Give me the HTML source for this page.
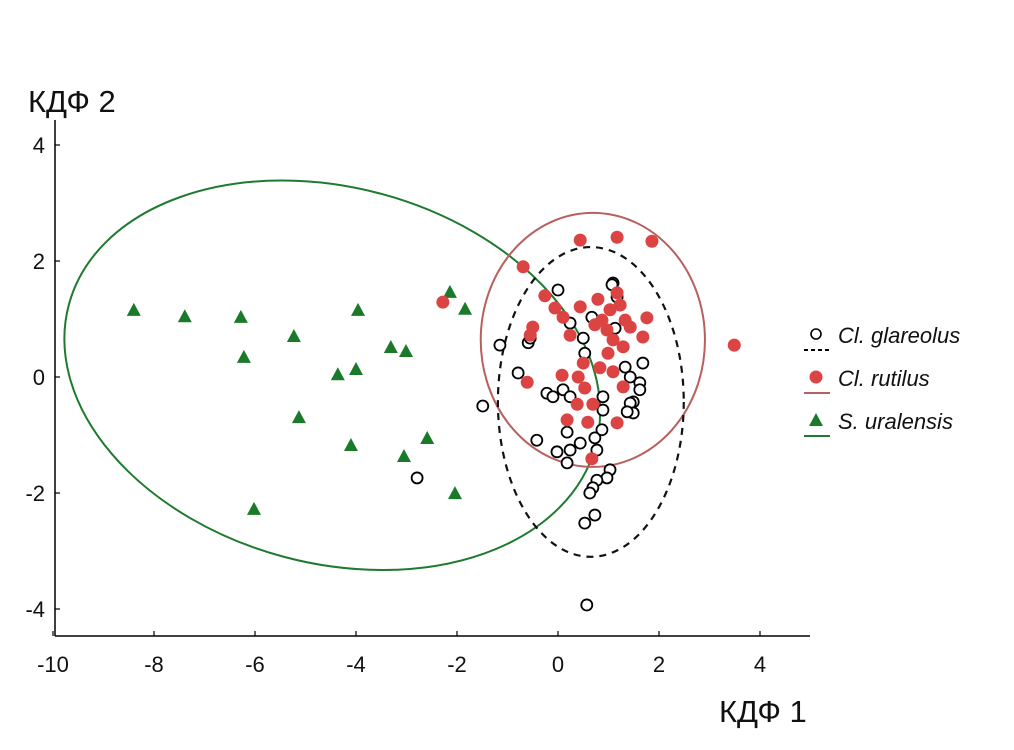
<!DOCTYPE html>
<html><head><meta charset="utf-8"><style>
html,body{margin:0;padding:0;background:#fff;}
svg{display:block;font-family:"Liberation Sans",sans-serif;}
</style></head><body>
<svg id="chart" width="1014" height="750" viewBox="0 0 1014 750"></svg>
<script>
const xTicks=[-10,-8,-6,-4,-2,0,2,4];
const yTicks=[-4,-2,0,2,4];
const glareolusX=[1.09,0,1.17,0.67,0.24,1.13,-0.59,-0.55,0.5,0.53,1.68,-0.79,1.33,1.43,1.62,-0.22,-0.1,0.1,0.24,0.89,-1.49,1.49,1.62,1.43,1.49,1.37,0.89,-0.42,0.18,-0.02,0.24,0.44,0.73,0.87,0.18,0.77,1.03,0.97,0.77,0.69,0.63,0.73,0.53,0.57,-2.79,-1.15,1.07];
const glareolusY=[1.62,1.5,1.38,1.03,0.93,0.84,0.59,0.67,0.67,0.41,0.24,0.07,0.17,0,-0.1,-0.28,-0.34,-0.22,-0.34,-0.34,-0.5,-0.43,-0.22,-0.45,-0.62,-0.6,-0.57,-1.09,-0.95,-1.29,-1.26,-1.14,-1.05,-0.91,-1.48,-1.26,-1.6,-1.74,-1.78,-1.91,-2,-2.38,-2.52,-3.93,-1.74,0.55,1.59];
const rutilusX=[0.44,1.17,1.86,-0.69,-0.26,-0.06,0.1,0.44,0.79,1.17,1.23,0.87,0.97,1.76,1.43,-0.5,-0.55,0.24,1.09,1.29,1.68,0.99,0.5,0.83,1.09,0.08,0.4,-0.61,1.29,0.53,0.38,0.69,0.18,0.59,1.17,0.67,-2.28,3.49,1.03,1.33,0.73];
const rutilusY=[2.36,2.41,2.34,1.9,1.4,1.19,1.03,1.21,1.34,1.45,1.24,0.98,0.81,1.02,0.86,0.86,0.72,0.72,0.64,0.52,0.69,0.41,0.24,0.16,0.09,0.03,0,-0.09,-0.17,-0.19,-0.47,-0.47,-0.74,-0.78,-0.79,-1.41,1.29,0.55,1.16,0.98,0.9];
const uralensisX=[-8.4,-7.39,-6.28,-5.23,-6.22,-3.96,-3.31,-3.01,-4.36,-4.0,-5.13,-4.1,-3.05,-2.59,-6.02,-2.14,-1.84,-2.04];
const uralensisY=[1.14,1.03,1.02,0.69,0.33,1.14,0.5,0.43,0.03,0.12,-0.71,-1.19,-1.38,-1.07,-2.29,1.45,1.16,-2.02];
// ellipses: center x, center y, radius x, radius y (data units), rotation deg
const ellipseGlareolus=[0.65,-0.43,1.84,2.67,0];
const ellipseRutilus=[0.69,0.64,2.22,2.19,0];
const ellipseUralensis=[-4.47,0.03,5.4,3.24,15];

const X0=558,XS=50.5,Y0=377,YS=58;
const sx=v=>X0+v*XS, sy=v=>Y0-v*YS;
const NS="http://www.w3.org/2000/svg";
const svg=document.getElementById('chart');
function mk(tag,attrs,parent){const e=document.createElementNS(NS,tag);for(const k in attrs)e.setAttribute(k,attrs[k]);(parent||svg).appendChild(e);return e;}

// axes
const ax=mk('g',{});


const yl=mk('line',{x1:55,y1:120,x2:55,y2:636,stroke:'#000','stroke-width':1.5},ax);


const xl=mk('line',{x1:55,y1:636,x2:810,y2:636,stroke:'#000','stroke-width':1.5},ax);


xTicks.forEach(t=>{
  const l=mk('line',{x1:sx(t),y1:636,x2:sx(t),y2:631,stroke:'#000','stroke-width':1.2},ax);
  
  
  const tx=mk('text',{x:sx(t),y:672,'font-size':22,'text-anchor':'middle',fill:'#111'},ax);
  tx.textContent=String(t);
  
  
});
yTicks.forEach(t=>{
  const l=mk('line',{x1:55,y1:sy(t),x2:60,y2:sy(t),stroke:'#000','stroke-width':1.2},ax);
  
  
  const tx=mk('text',{x:45,y:sy(t)+8,'font-size':22,'text-anchor':'end',fill:'#111'},ax);
  tx.textContent=String(t);
  
  
});
const yt=mk('text',{x:28,y:112,'font-size':31,fill:'#111'});
yt.textContent='КДФ 2';


const xt=mk('text',{x:719,y:722,'font-size':31,fill:'#111'});
xt.textContent='КДФ 1';



function ell(p,stroke,dash,name){
  const cx=sx(p[0]),cy=sy(p[1]);
  const e=mk('ellipse',{cx:cx,cy:cy,rx:p[2]*XS,ry:p[3]*YS,fill:'none',stroke:stroke,'stroke-width':dash?2.2:2,transform:`rotate(${p[4]} ${cx} ${cy})`});
  if(dash)e.setAttribute('stroke-dasharray','7 6');
  
  
}
ell(ellipseUralensis,'#1e7a2e',false,'uralensis-ellipse');
ell(ellipseRutilus,'#b86060',false,'rutilus-ellipse');
ell(ellipseGlareolus,'#111',true,'glareolus-ellipse');

uralensisX.forEach((v,i)=>{
  const x=sx(v),y=sy(uralensisY[i]);
  const p=mk('polygon',{points:`${x},${y-8} ${x-7},${y+5} ${x+7},${y+5}`,fill:'#1a7a2a'});
  
  
});
glareolusX.forEach((v,i)=>{
  const c=mk('circle',{cx:sx(v),cy:sy(glareolusY[i]),r:5.5,fill:'#fff',stroke:'#000','stroke-width':1.8});
  
  
});
rutilusX.forEach((v,i)=>{
  const c=mk('circle',{cx:sx(v),cy:sy(rutilusY[i]),r:6.5,fill:'#dc4444'});
  
  
});

// legend
const lg=mk('g',{});


const c1=mk('circle',{cx:816,cy:334,r:5,fill:'#fff',stroke:'#000','stroke-width':1.6},lg);


mk('line',{x1:804,y1:350,x2:830,y2:350,stroke:'#000','stroke-width':2,'stroke-dasharray':'4 3'},lg);
const t1=mk('text',{x:838,y:343,'font-size':22,'font-style':'italic',fill:'#111'},lg);
t1.textContent='Cl. glareolus';


const c2=mk('circle',{cx:816,cy:377,r:6.5,fill:'#dc4444'},lg);


mk('line',{x1:804,y1:393,x2:830,y2:393,stroke:'#b86060','stroke-width':2},lg);
const t2=mk('text',{x:838,y:386,'font-size':22,'font-style':'italic',fill:'#111'},lg);
t2.textContent='Cl. rutilus';


const tr=mk('polygon',{points:'816,413 809,426 823,426',fill:'#1a7a2a'},lg);


mk('line',{x1:804,y1:436,x2:830,y2:436,stroke:'#1e7a2e','stroke-width':2},lg);
const t3=mk('text',{x:838,y:429,'font-size':22,'font-style':'italic',fill:'#111'},lg);
t3.textContent='S. uralensis';


</script>
</body></html>
